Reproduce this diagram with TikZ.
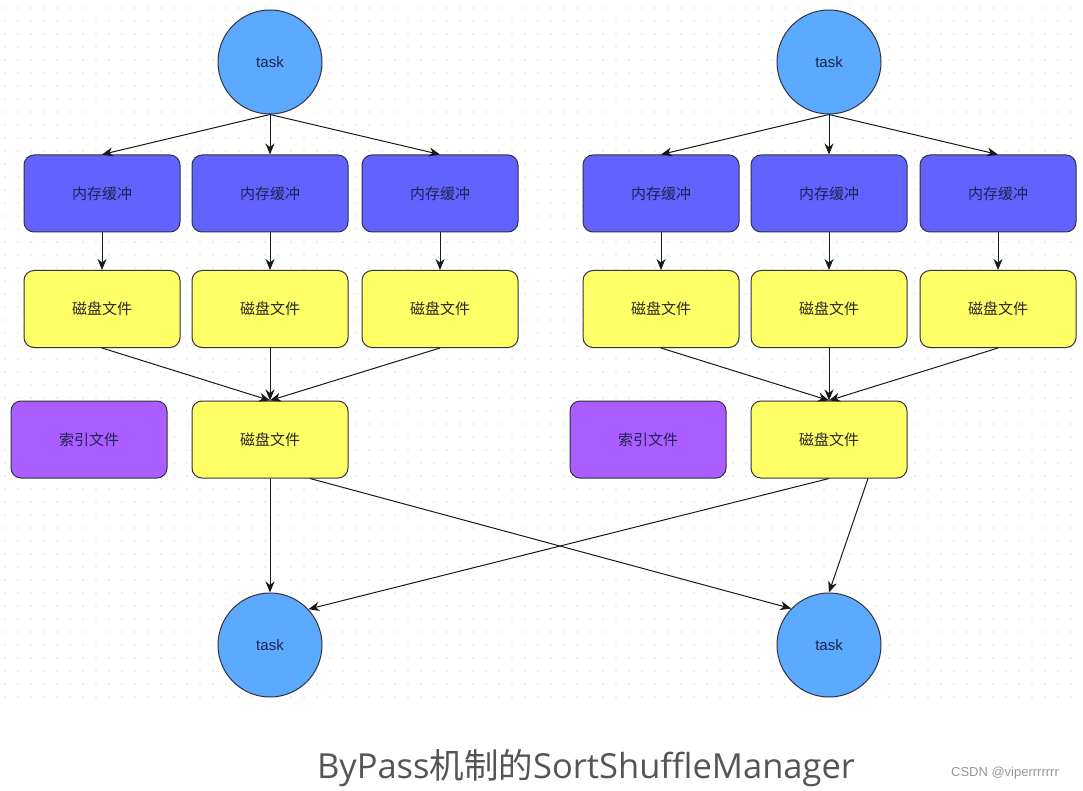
\documentclass[tikz,border=0pt]{standalone}
\usepackage{fontspec}
\setmainfont{Liberation Sans}
\newfontfamily\cjk{Noto Sans CJK SC}
\newfontfamily\capfont{Open Sans}
\usetikzlibrary{arrows.meta}
\definecolor{taskblue}{RGB}{92,170,255}
\definecolor{membox}{RGB}{98,98,255}
\definecolor{diskbox}{RGB}{255,255,102}
\definecolor{idxbox}{RGB}{170,94,255}
\definecolor{edgec}{RGB}{50,50,60}
\definecolor{txtc}{RGB}{30,35,80}
\definecolor{dotc}{RGB}{226,226,226}
\definecolor{capc}{RGB}{85,85,85}
\definecolor{wmc}{RGB}{150,150,150}
\tikzset{
  taskc/.style={circle, draw=edgec, line width=1pt, fill=taskblue, minimum size=104pt, inner sep=0pt, font=\fontsize{15}{18}\selectfont, text=txtc},
  boxbase/.style={rectangle, rounded corners=10pt, draw=edgec, line width=1pt, minimum width=156pt, minimum height=77pt, inner sep=0pt, font=\cjk\fontsize{15}{18}\selectfont, text=txtc},
  membx/.style={boxbase, fill=membox},
  diskbx/.style={boxbase, fill=diskbox, text=black!85},
  idxbx/.style={boxbase, fill=idxbox},
  arr/.style={-{Stealth[length=11pt,width=9pt,inset=3.5pt]}, line width=1pt, draw=black!90},
}
\begin{document}
\begin{tikzpicture}[x=1pt,y=-1pt]
\useasboundingbox (0,0) rectangle (1083,791);
\fill[white] (0,0) rectangle (1083,791);
% dotted background
\foreach \yy in {8,21,...,700}
  \draw[dotc, line width=1.6pt, dash pattern=on 0pt off 13pt, line cap=round] (5,\yy) -- (1083,\yy);

% top tasks
\node[taskc] (tL) at (270,62) {task};
\node[taskc] (tR) at (829,62) {task};
% memory buffers
\node[membx] (b1) at (102,193.5) {内存缓冲};
\node[membx] (b2) at (270,193.5) {内存缓冲};
\node[membx] (b3) at (440,193.5) {内存缓冲};
\node[membx] (b4) at (661,193.5) {内存缓冲};
\node[membx] (b5) at (829,193.5) {内存缓冲};
\node[membx] (b6) at (998,193.5) {内存缓冲};
% disk files
\node[diskbx] (y1) at (102,309) {磁盘文件};
\node[diskbx] (y2) at (270,309) {磁盘文件};
\node[diskbx] (y3) at (440,309) {磁盘文件};
\node[diskbx] (y4) at (661,309) {磁盘文件};
\node[diskbx] (y5) at (829,309) {磁盘文件};
\node[diskbx] (y6) at (998,309) {磁盘文件};
% merged
\node[idxbx] (pL) at (89,439.5) {索引文件};
\node[diskbx] (mL) at (270,439.5) {磁盘文件};
\node[idxbx] (pR) at (648,439.5) {索引文件};
\node[diskbx] (mR) at (829,439.5) {磁盘文件};
% bottom tasks
\node[taskc] (bL) at (270,645) {task};
\node[taskc] (bR) at (829,645) {task};

% arrows
\foreach \b in {b1,b2,b3} \draw[arr] (tL.south) -- (\b.north);
\foreach \b in {b4,b5,b6} \draw[arr] (tR.south) -- (\b.north);
\draw[arr] (b1) -- (y1);
\draw[arr] (b2) -- (y2);
\draw[arr] (b3) -- (y3);
\draw[arr] (b4) -- (y4);
\draw[arr] (b5) -- (y5);
\draw[arr] (b6) -- (y6);
\foreach \y in {y1,y2,y3} \draw[arr] (\y.south) -- (mL.north);
\foreach \y in {y4,y5,y6} \draw[arr] (\y.south) -- (mR.north);
\draw[arr] (mL.south) -- (bL.north);
\draw[arr] ([xshift=40pt]mL.south) -- (bR.136);
\draw[arr] (mR.south) -- (bL.43);
\draw[arr] ([xshift=39pt]mR.south) -- (bR.north);

% caption
\node[text=capc, font=\fontsize{34.5}{40}\selectfont, inner sep=0pt] (cap) at (586,768)
  {{\capfont ByPass}{\cjk 机制的}{\capfont SortShuffleManager}};
\node[text=wmc, font=\fontsize{13}{15}\selectfont, inner sep=0pt] (wm) at (1005,773) {CSDN @viperrrrrrr};
\end{tikzpicture}
\end{document}
